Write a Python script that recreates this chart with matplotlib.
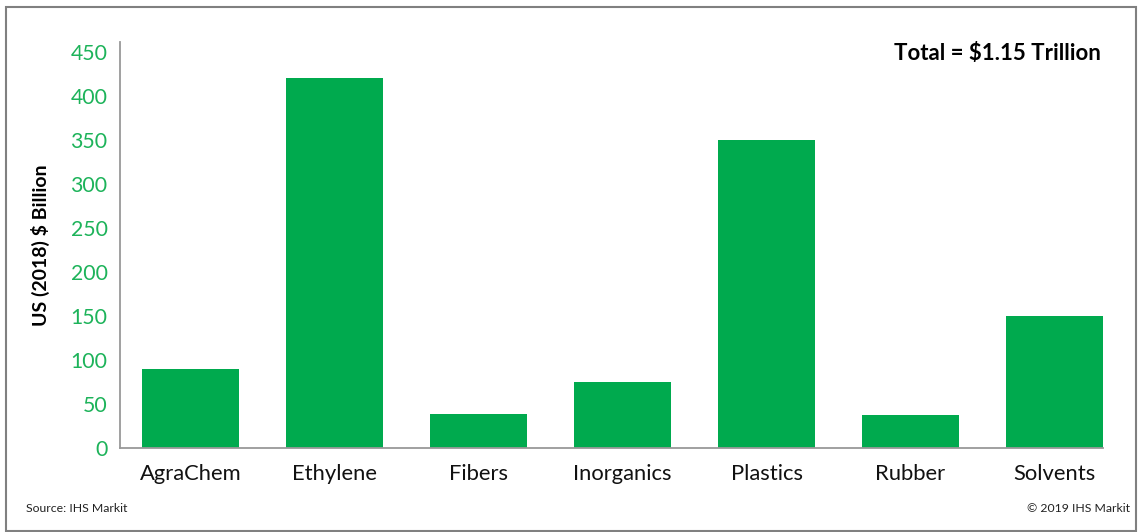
import matplotlib; matplotlib.use("Agg")
import matplotlib.pyplot as plt
from matplotlib.patches import Rectangle

plt.rcParams['font.family'] = ['Lato', 'DejaVu Sans']

categories = ["AgraChem", "Ethylene", "Fibers", "Inorganics", "Plastics", "Rubber", "Solvents"]
values = [89, 420, 38, 74, 350, 37, 149]
yticks = [0, 50, 100, 150, 200, 250, 300, 350, 400, 450]

BAR = "#00AA4E"
TICK = "#1DB35A"

fig = plt.figure(figsize=(11.39, 5.32), dpi=100)
ax = fig.add_axes([120/1139, 84.5/532, 983/1139, 405.5/532])

x = range(len(categories))
ax.bar(x, values, width=0.674, color=BAR, zorder=2)
ax.set_xlim(-0.49, 6.337)
ax.set_ylim(0, 461)
ax.set_yticks(yticks)
ax.set_xticks(list(x))
ax.set_xticklabels(categories, fontsize=15.8, color="#111111")
ax.tick_params(axis="y", length=0, pad=9, labelsize=15.3, labelcolor=TICK)
ax.tick_params(axis="x", length=0, pad=12)
for s in ("top", "right"):
    ax.spines[s].set_visible(False)
for s in ("left", "bottom"):
    ax.spines[s].set_color("#999999")
    ax.spines[s].set_linewidth(1.3)
ax.set_ylabel("US (2018) $ Billion", fontsize=14, fontweight="bold", labelpad=15)

fig.text(1101/1139, 1 - 53/532, "Total = $1.15 Trillion", ha="right", va="center",
         fontsize=16, fontweight="bold")
fig.text(26/1139, 1 - 508/532, "Source: IHS Markit", ha="left", va="center", fontsize=8.8, color="#222222")
fig.text(1130/1139, 1 - 508/532, "\u00a9 2019 IHS Markit", ha="right", va="center", fontsize=8.8, color="#222222")

# outer frame
fig.patches.append(Rectangle((6/1139, 1/532), 1130/1139, 524/532, transform=fig.transFigure,
                             fill=False, edgecolor="#808080", linewidth=1.5))

fig.savefig("out.png", dpi=100)
